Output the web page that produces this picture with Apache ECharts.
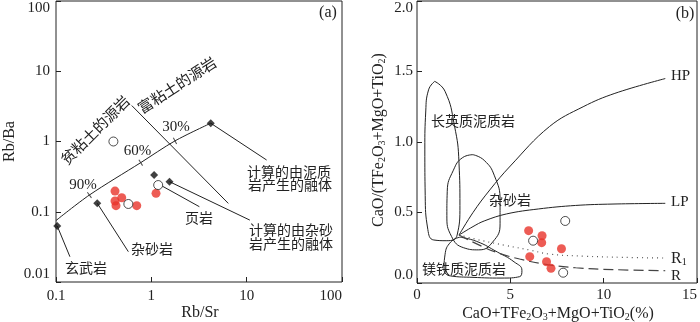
<!DOCTYPE html>
<html>
<head>
<meta charset="utf-8">
<script src="https://cdn.jsdelivr.net/npm/echarts@6/dist/echarts.min.js"></script>
<style>
  html, body { margin: 0; padding: 0; background: #fff; }
  #chart { width: 700px; height: 322px; }
</style>
</head>
<body>
<div id="chart"></div>
<script>
// ---- (a) Rb/Sr vs Rb/Ba ----
var mixLine = [[0.1, 0.075], [0.224, 0.173], [0.774, 0.5], [1.77, 1.02], [4.2, 1.82]];
var mixTicks = [[0.224, 0.173], [0.774, 0.5], [1.77, 1.02]];
var mixTickText = ['90%', '60%', '30%'];
var dividerA = [[0.623, 3.25], [6.42, 0.1315]];
var endMembersA = [[0.103, 0.0627], [0.271, 0.132], [1.07, 0.333], [1.55, 0.268], [4.2, 1.82]];
var leadersA = [
  [[0.103, 0.0627], [0.14, 0.0229]],
  [[0.271, 0.132], [0.574, 0.027]],
  [[1.3, 0.232], [3.19, 0.118]],
  [[1.55, 0.268], [10.8, 0.076]],
  [[4.2, 1.82], [16.2, 0.545]]
];
var redA = [[0.416, 0.197], [0.489, 0.158], [0.416, 0.142], [0.426, 0.122], [0.703, 0.122], [1.12, 0.183]];
var openA = [[0.40, 1.0], [0.574, 0.129], [1.18, 0.24]];

// ---- (b) CaO+TFe2O3+MgO+TiO2 vs CaO/(TFe2O3+MgO+TiO2) ----
var felsicField = [[0.95, 1.43], [0.62, 1.37], [0.47, 1.22], [0.42, 0.95], [0.44, 0.62], [0.58, 0.38],
  [0.9, 0.305], [1.6, 0.30], [2.15, 0.34], [2.3, 0.55], [2.25, 0.85], [2.0, 1.12], [1.5, 1.36], [0.95, 1.43]];
var greywackeField = [[3.0, 0.91], [3.6, 0.87], [4.15, 0.76], [4.45, 0.58], [4.45, 0.42], [4.05, 0.29],
  [3.3, 0.235], [2.5, 0.25], [1.85, 0.33], [1.6, 0.48], [1.62, 0.65], [1.95, 0.8], [2.45, 0.89], [3.0, 0.91]];
var maficField = [[2.3, 0.325], [3.2, 0.295], [4.3, 0.22], [5.2, 0.15], [5.62, 0.09], [5.5, 0.045],
  [4.5, 0.035], [3.0, 0.04], [1.8, 0.05], [1.45, 0.1], [1.5, 0.2], [1.8, 0.29], [2.3, 0.325]];
var hpCurve = [[2.25, 0.34], [3.0, 0.5], [3.9, 0.66], [5.0, 0.83], [7.1, 1.11], [8.9, 1.25], [10.6, 1.345], [13.3, 1.45]];
var lpCurve = [[2.25, 0.34], [3.0, 0.40], [3.6, 0.44], [4.8, 0.49], [6.5, 0.525], [8.5, 0.55], [10.5, 0.56], [13.3, 0.565]];
var r1Curve = [[2.25, 0.34], [3.5, 0.30], [4.8, 0.265], [6.0, 0.235], [7.1, 0.205], [9.0, 0.19], [11.0, 0.182], [13.3, 0.177]];
var rCurve = [[2.25, 0.34], [3.0, 0.29], [4.2, 0.22], [5.5, 0.17], [7.0, 0.13], [8.5, 0.108], [10.5, 0.095], [13.3, 0.087]];
var redB = [[5.98, 0.371], [6.70, 0.335], [6.68, 0.286], [7.74, 0.243], [6.04, 0.187], [6.94, 0.151], [7.18, 0.104]];
var openB = [[7.94, 0.44], [6.22, 0.30], [7.83, 0.073]];

var serif = '"Liberation Serif", "Times New Roman", serif';
var cjk = '"Noto Sans CJK SC", sans-serif';
var ink = '#222';
var red = '#e8332b';

var chart = echarts.init(document.getElementById('chart'), null, { renderer: 'canvas' });

function axisLabel(extra) {
  return Object.assign({
    fontFamily: serif, fontSize: 15, color: ink
  }, extra);
}
var tick = { inside: true, length: 5, lineStyle: { color: ink, width: 1 } };

function line(xi, data, style, smooth) {
  return {
    type: 'line', xAxisIndex: xi, yAxisIndex: xi, data: data,
    symbol: 'none', smooth: smooth || false, silent: true,
    lineStyle: Object.assign({ color: ink, width: 1 }, style)
  };
}
function dots(xi, data, filled, size) {
  return {
    type: 'scatter', xAxisIndex: xi, yAxisIndex: xi, data: data, symbolSize: size || 9,
    itemStyle: filled ? { color: red } : { color: '#fff', borderColor: ink, borderWidth: 1 },
    z: 5
  };
}

var tickAngles = [36, 32, 28];

function txt(x, y, text, o) {
  o = o || {};
  return {
    type: 'text', x: x, y: y, rotation: o.rot || 0, silent: true, z: 10,
    style: {
      text: text, fill: ink, align: o.align || 'center', verticalAlign: 'middle',
      fontFamily: o.font || cjk, fontSize: o.size || 14, rich: o.rich
    }
  };
}
var subRich = {
  n: { fontFamily: serif, fontSize: 16, fill: ink, verticalAlign: 'bottom', lineHeight: 18 },
  s: { fontFamily: serif, fontSize: 10, fill: ink, verticalAlign: 'bottom', lineHeight: 18 }
};

var series = [];
series.push(line(0, mixLine, {}, 0.3));
series.push(line(0, dividerA, {}));
leadersA.forEach(function (seg) { series.push(line(0, seg, {})); });
series.push({
  type: 'scatter', xAxisIndex: 0, yAxisIndex: 0, symbol: 'rect', symbolSize: [1, 7],
  itemStyle: { color: ink },
  data: mixTicks.map(function (p, i) { return { value: p, symbolRotate: tickAngles[i] }; })
});
series.push({
  type: 'scatter', xAxisIndex: 0, yAxisIndex: 0, symbol: 'diamond', symbolSize: 8,
  itemStyle: { color: '#111' }, data: endMembersA, z: 4
});
series.push(dots(0, redA, true));
series.push(dots(0, openA, false));

series.push(line(1, felsicField, {}, 0.5));
series.push(line(1, greywackeField, {}, 0.5));
series.push(line(1, maficField, {}, 0.5));
series.push(line(1, hpCurve, {}, 0.4));
series.push(line(1, lpCurve, {}, 0.4));
series.push(line(1, r1Curve, { type: [1, 4], width: 1.2, color: '#555' }, 0.4));
series.push(line(1, rCurve, { type: [10, 5], width: 1.2, color: '#444' }, 0.4));
series.push(dots(1, redB, true));
series.push(dots(1, openB, false));

var graphics = [
  txt(328, 13, '(a)', { font: serif, size: 16 }),
  txt(95, 130, '贫粘土的源岩', { rot: Math.PI / 4, size: 15 }),
  txt(177, 85, '富粘土的源岩', { rot: 33 * Math.PI / 180, size: 15 }),
  txt(83, 185, mixTickText[0], { font: serif, size: 15 }),
  txt(137.5, 151, mixTickText[1], { font: serif, size: 15 }),
  txt(176, 127.5, mixTickText[2], { font: serif, size: 15 }),
  txt(289, 172, '计算的由泥质'),
  txt(290, 184.5, '岩产生的融体'),
  txt(291, 230, '计算的由杂砂'),
  txt(291, 244, '岩产生的融体'),
  txt(199, 218, '页岩'),
  txt(152, 249, '杂砂岩'),
  txt(86, 268, '玄武岩'),
  txt(10, 141.5, 'Rb/Ba', { font: serif, size: 16, rot: Math.PI / 2 }),
  txt(200, 313, 'Rb/Sr', { font: serif, size: 16 }),

  txt(685, 14, '(b)', { font: serif, size: 16 }),
  txt(473, 121, '长英质泥质岩'),
  txt(510, 200, '杂砂岩'),
  txt(464, 269, '镁铁质泥质岩'),
  txt(671, 76, 'HP', { font: serif, size: 15, align: 'left' }),
  txt(671, 202, 'LP', { font: serif, size: 15, align: 'left' }),
  txt(671, 258, '{n|R}{s|1}', { align: 'left', rich: subRich }),
  txt(671, 276, 'R', { font: serif, size: 15, align: 'left' }),
  txt(378, 140, '{n|CaO/(TFe}{s|2}{n|O}{s|3}{n|+MgO+TiO}{s|2}{n|)}', { rot: Math.PI / 2, rich: subRich }),
  txt(558, 313, '{n|CaO+TFe}{s|2}{n|O}{s|3}{n|+MgO+TiO}{s|2}{n|(%)}', { rich: subRich })
];

chart.setOption({
  animation: false,
  backgroundColor: '#fff',
  grid: [
    { left: 56, top: 1, width: 286, height: 281, show: true, borderColor: ink, borderWidth: 1 },
    { left: 417, top: 1, width: 281.5, height: 282, show: true, borderColor: ink, borderWidth: 1 }
  ],
  xAxis: [
    {
      gridIndex: 0, type: 'log', logBase: 10, min: 0.1, max: 100,
      axisLine: { show: false }, axisTick: tick, splitLine: { show: false },
      axisLabel: axisLabel({ margin: 7, alignMaxLabel: 'right' })
    },
    {
      gridIndex: 1, type: 'value', min: 0, max: 15, interval: 5,
      axisLine: { show: false }, axisTick: tick, splitLine: { show: false },
      axisLabel: axisLabel({ margin: 5, alignMaxLabel: 'right' })
    }
  ],
  yAxis: [
    {
      gridIndex: 0, type: 'log', logBase: 10, min: 0.01, max: 100,
      axisLine: { show: false }, axisTick: tick, splitLine: { show: false },
      axisLabel: axisLabel({ margin: 6, verticalAlignMaxLabel: 'top', verticalAlignMinLabel: 'bottom' })
    },
    {
      gridIndex: 1, type: 'value', min: 0, max: 2, interval: 0.5,
      axisLine: { show: false }, axisTick: tick, splitLine: { show: false },
      axisLabel: axisLabel({
        margin: 4, verticalAlignMaxLabel: 'top', verticalAlignMinLabel: 'bottom',
        formatter: function (v) { return v.toFixed(1); }
      })
    }
  ],
  series: series,
  graphic: graphics
});
</script>
</body>
</html>
